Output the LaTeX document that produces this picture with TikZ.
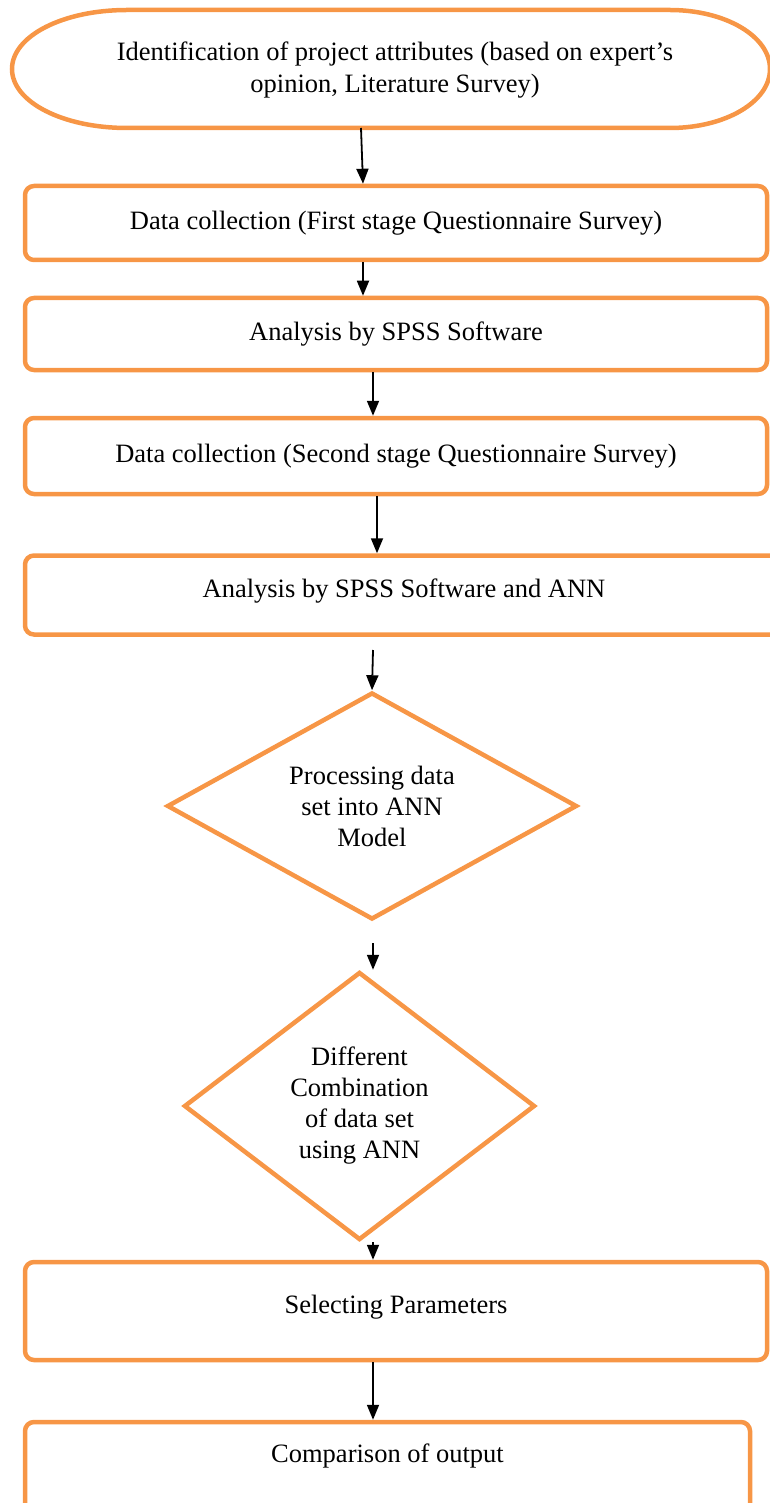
\documentclass[tikz,border=0pt]{standalone}
\usepackage{fontspec}
\setmainfont{Liberation Serif}
\usetikzlibrary{shapes.geometric,arrows.meta}
\definecolor{flowor}{HTML}{F79646}
\tikzset{
  orline/.style={draw=flowor, line width=4.5pt},
  boxn/.style={orline, rounded corners=9pt, inner sep=0pt, align=center},
  diamn/.style={orline, diamond, inner sep=0pt, align=center},
  arr/.style={line width=1.8pt, -{Triangle[width=12pt,length=15pt]}},
}
\begin{document}
\begin{tikzpicture}[x=1pt, y=-1pt, font=\fontsize{26.5}{31}\selectfont]
\useasboundingbox (0,0) rectangle (769,1503);
\node[rectangle, inner sep=0pt, outer sep=0pt, minimum width=758pt, minimum height=118pt,
  label={[xshift=4pt, yshift=-1pt, align=center, font=\fontsize{26.5}{32}\selectfont]center:Identification of project attributes (based on expert’s\\opinion, Literature Survey)}] (e) at (391,69) {};
\draw[orline] ([xshift=115pt]e.north west) -- ([xshift=-100pt]e.north east)
  .. controls ([xshift=-45pt]e.north east) and ([yshift=33pt]e.east) .. (e.east)
  .. controls ([yshift=-33pt]e.east) and ([xshift=-45pt]e.south east) .. ([xshift=-100pt]e.south east)
  -- ([xshift=115pt]e.south west)
  .. controls ([xshift=51pt]e.south west) and ([yshift=-33pt]e.west) .. (e.west)
  .. controls ([yshift=33pt]e.west) and ([xshift=51pt]e.north west) .. cycle;
\node[boxn, minimum width=742pt, minimum height=74pt] (b1) at (396,223) {\raisebox{2pt}{Data collection (First stage Questionnaire Survey)}};
\node[boxn, minimum width=742pt, minimum height=72pt] (b2) at (396,334) {Analysis by SPSS Software};
\node[boxn, minimum width=742pt, minimum height=76pt] (b3) at (396,456) {Data collection (Second stage Questionnaire Survey)};
\node[boxn, minimum width=758pt, minimum height=79pt] (b4) at (404,595) {\raisebox{13pt}{Analysis by SPSS Software and ANN}};
\node[diamn, minimum width=410pt, minimum height=227pt, shape aspect=1.8] (d1) at (372,806)
  {Processing data\\set into ANN\\Model};
\node[diamn, minimum width=351pt, minimum height=268pt, shape aspect=1.3] (d2) at (359.5,1106)
  {Different\\Combination\\of data set\\using ANN};
\node[boxn, minimum width=742pt, minimum height=98pt] (b5) at (396,1311) {\raisebox{13pt}{Selecting Parameters}};
\node[boxn, minimum width=725pt, minimum height=96pt,
  label={[yshift=14pt]center:Comparison of output}] (b6) at (387.5,1470) {};
\coordinate (s5) at (373,650);
\coordinate (s6) at (373,943);
\draw[arr] (e.south -| 361,0) -- (b1.north -| 363,0);
\draw[arr] (b1.south -| 363,0) -- (b2.north -| 363,0);
\draw[arr] (b2.south -| 373,0) -- (b3.north -| 373,0);
\draw[arr] (b3.south -| 377,0) -- (b4.north -| 377,0);
\draw[arr] (s5) -- (d1.north);
\draw[arr] (s6) -- (d2.north -| 373,0);
\draw[arr] (d2.south -| 373,0) -- (b5.north -| 373,0);
\draw[arr] (b5.south -| 373,0) -- (b6.north -| 373,0);
\end{tikzpicture}
\end{document}
